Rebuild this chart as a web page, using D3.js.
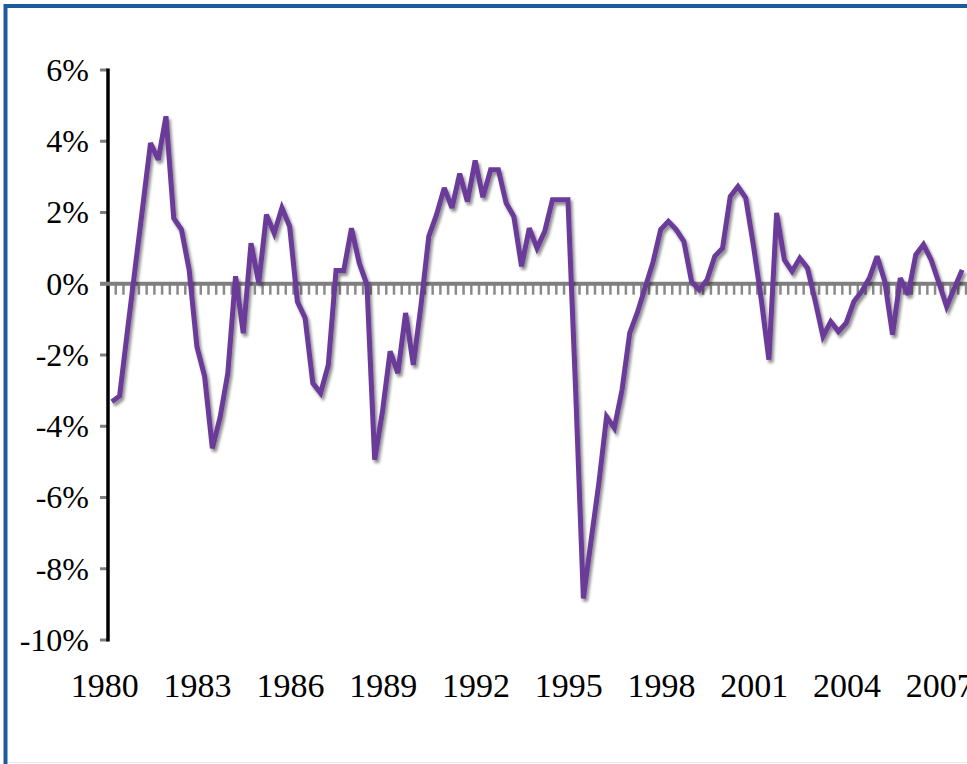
<!DOCTYPE html>
<html>
<head>
<meta charset="utf-8">
<script src="https://cdn.jsdelivr.net/npm/d3@7"></script>
<style>
  body { margin: 0; background: #fff; }
  svg { display: block; }
  text { font-family: "Liberation Serif", "DejaVu Serif", serif; fill: #000; }
</style>
</head>
<body>
<script>
// quarterly values, 1980Q1 .. 2007Q3 (percent)
var values = [
  -3.31, -3.15, -1.35, 0.42, 2.18, 3.95, 3.48, 4.70, 1.84, 1.52,
  0.39, -1.76, -2.60, -4.62, -3.75, -2.51, 0.21, -1.39, 1.14, 0.02,
  1.94, 1.42, 2.13, 1.61, -0.50, -0.96, -2.79, -3.07, -2.28, 0.37,
  0.37, 1.56, 0.58, -0.03, -4.94, -3.60, -1.90, -2.51, -0.82, -2.28,
  -0.59, 1.33, 1.94, 2.69, 2.13, 3.09, 2.31, 3.46, 2.43, 3.20,
  3.20, 2.27, 1.89, 0.49, 1.56, 1.00, 1.47, 2.36, 2.36, 2.36,
  -3.00, -8.83, -7.20, -5.60, -3.73, -4.05, -2.98, -1.38, -0.80, -0.10,
  0.60, 1.52, 1.75, 1.52, 1.19, 0.06, -0.17, 0.11, 0.77, 1.00,
  2.45, 2.73, 2.41, 1.07, -0.42, -2.13, 1.99, 0.67, 0.35, 0.72,
  0.44, -0.49, -1.48, -1.06, -1.34, -1.10, -0.50, -0.22, 0.16, 0.77,
  0.06, -1.43, 0.16, -0.31, 0.81, 1.10, 0.67, 0.02, -0.64, -0.12,
  0.39
];
var yearLabels = ["1980", "1983", "1986", "1989", "1992", "1995", "1998", "2001", "2004", "2007"];
var yTicks = [6, 4, 2, 0, -2, -4, -6, -8, -10];

var width = 967, height = 764;
var n = values.length;

var svg = d3.select("body").append("svg")
    .attr("width", width)
    .attr("height", height);

// frame (only left and top edges are visible in the crop)
svg.append("rect")
    .attr("x", 5.5).attr("y", 6)
    .attr("width", width + 20).attr("height", height + 20)
    .style("fill", "none")
    .style("stroke", "#1d5c9a")
    .style("stroke-width", 4);
svg.append("line")
    .attr("x1", 8).attr("x2", width)
    .attr("y1", 762.5).attr("y2", 762.5)
    .style("stroke", "#e8e8e8").style("stroke-width", 1);

var x = d3.scaleLinear().domain([-0.5, n - 0.5]).range([108, 966]);
var y = d3.scaleLinear().domain([-10, 6]).range([640, 70]);

// shadow for the series line
var defs = svg.append("defs");
var f = defs.append("filter").attr("id", "shadow")
    .attr("x", "-5%").attr("y", "-5%").attr("width", "110%").attr("height", "110%");
f.append("feGaussianBlur").attr("in", "SourceAlpha").attr("stdDeviation", 1.6).attr("result", "blur");
f.append("feOffset").attr("in", "blur").attr("dx", 2).attr("dy", 3).attr("result", "off");
f.append("feComponentTransfer").attr("in", "off").attr("result", "soft")
  .append("feFuncA").attr("type", "linear").attr("slope", 0.45);
var merge = f.append("feMerge");
merge.append("feMergeNode").attr("in", "soft");
merge.append("feMergeNode").attr("in", "SourceGraphic");

// y axis
var yAxis = svg.append("g").attr("class", "y-axis");
yAxis.selectAll("line.tick")
    .data(yTicks)
  .enter().append("line")
    .attr("class", "tick")
    .attr("x1", 100).attr("x2", 108)
    .attr("y1", function(d) { return y(d); })
    .attr("y2", function(d) { return y(d); })
    .style("stroke", "#7f7f7f")
    .style("stroke-width", 3);
yAxis.selectAll("text")
    .data(yTicks)
  .enter().append("text")
    .attr("x", 89)
    .attr("y", function(d) { return y(d); })
    .attr("dy", "0.34em")
    .attr("text-anchor", "end")
    .style("font-size", "32px")
    .text(function(d) { return d + "%"; });
yAxis.append("line")
    .attr("x1", 108).attr("x2", 108)
    .attr("y1", y(6) - 1.5).attr("y2", y(-10) + 1.5)
    .style("stroke", "#000")
    .style("stroke-width", 3.5);

// zero line with quarter ticks hanging below
var zero = svg.append("g").attr("class", "zero-axis");
zero.selectAll("line.minor")
    .data(d3.range(1, n + 1))
  .enter().append("line")
    .attr("class", "minor")
    .attr("x1", function(d) { return x(d - 0.5); })
    .attr("x2", function(d) { return x(d - 0.5); })
    .attr("y1", y(0)).attr("y2", y(0) + 11)
    .style("stroke", "#8a8a8a")
    .style("stroke-width", 2.5);
zero.append("line")
    .attr("x1", 100).attr("x2", width)
    .attr("y1", y(0)).attr("y2", y(0))
    .style("stroke", "#7f7f7f")
    .style("stroke-width", 4);

// year labels every 12 quarters
svg.append("g").selectAll("text")
    .data(yearLabels)
  .enter().append("text")
    .attr("x", function(d, i) { return x(i * 12) - 7; })
    .attr("y", 697)
    .attr("text-anchor", "middle")
    .style("font-size", "34px")
    .text(function(d) { return d; });

// series
var line = d3.line()
    .x(function(d, i) { return x(i); })
    .y(function(d) { return y(d); });

svg.append("path")
    .datum(values)
    .attr("d", line)
    .attr("filter", "url(#shadow)")
    .style("fill", "none")
    .style("stroke", "#6a3b99")
    .style("stroke-width", 5)
    .style("stroke-linejoin", "miter")
    .style("stroke-miterlimit", 3);
</script>
</body>
</html>
